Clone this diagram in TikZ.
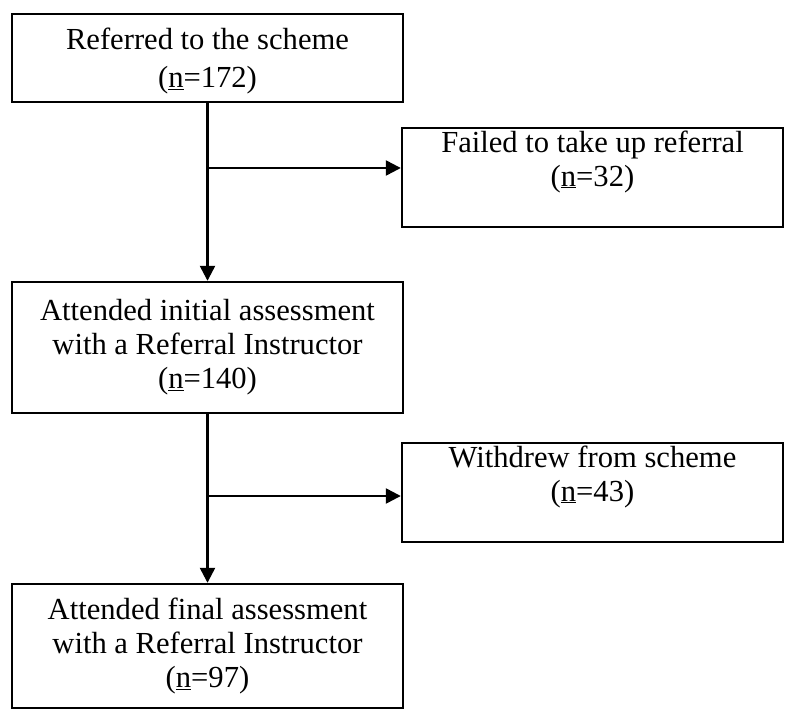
\documentclass[tikz,border=0pt]{standalone}
\usepackage{fontspec}
\setmainfont{Liberation Serif}
\usetikzlibrary{arrows.meta}

\tikzset{
    box/.style={draw, line width=2.4pt, align=center, inner sep=0pt,
        font=\fontsize{30.6}{34}\selectfont},
    leftbox/.style={box, minimum width=391pt},
    rightbox/.style={box, minimum width=381pt, text depth=38pt},
    flow/.style={line width=2.4pt, -{Triangle[length=15pt,width=15pt]}}
}

\begin{document}
\begin{tikzpicture}[x=1pt,y=-1pt]
    \useasboundingbox (0,0) rectangle (786,711);

    \node[leftbox, minimum height=88pt, text depth=-3pt] (ref) at (207.5,58) {Referred to the scheme\\[4pt](\underline{n}=172)};
    \node[rightbox, minimum height=99pt] (fail) at (592.5,177.5) {Failed to take up referral\\(\underline{n}=32)};
    \node[leftbox, minimum height=131pt] (init) at (207.5,347.5) {Attended initial assessment\\with a Referral Instructor\\(\underline{n}=140)};
    \node[rightbox, minimum height=99pt] (wd) at (592.5,492.5) {Withdrew from scheme\\(\underline{n}=43)};
    \node[leftbox, minimum height=124pt] (fin) at (207.5,646) {Attended final assessment\\with a Referral Instructor\\(\underline{n}=97)};

    \coordinate (b1) at (207.5,168);
    \coordinate (b2) at (207.5,496);

    \draw[flow] (ref.south) -- (init.north);
    \draw[flow] (b1) -- (b1 -| fail.west);
    \draw[flow] (init.south) -- (fin.north);
    \draw[flow] (b2) -- (b2 -| wd.west);
\end{tikzpicture}
\end{document}
